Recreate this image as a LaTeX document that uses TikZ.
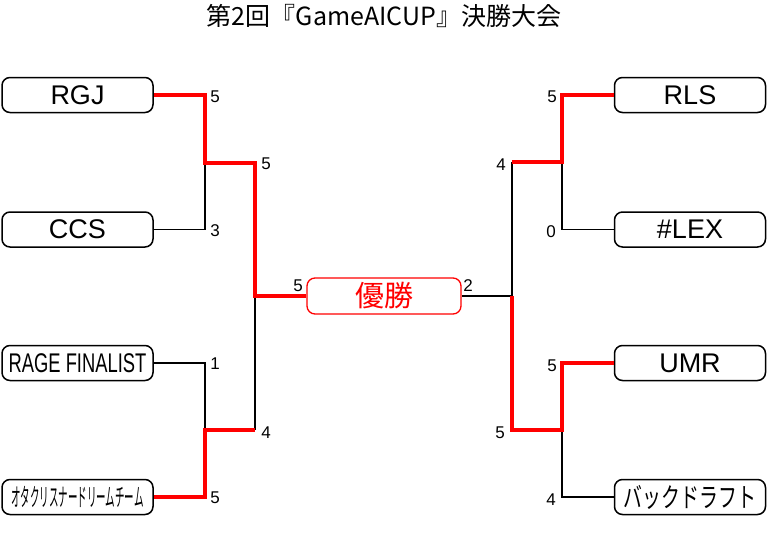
\documentclass[tikz,border=0pt]{standalone}
\usepackage{fontspec}
\setmainfont{Liberation Sans}
\newfontfamily\jp{Noto Sans CJK JP}
\begin{document}
\begin{tikzpicture}[x=1pt,y=-1pt,
  team/.style={shape=rectangle,draw,line width=1.5pt,rounded corners=8pt,minimum width=151pt,minimum height=35pt,inner sep=0pt,font=\fontsize{27}{27}\selectfont},
  champbox/.style={shape=rectangle,draw=red,text=red,line width=1.3pt,rounded corners=8pt,minimum width=154pt,minimum height=36pt,inner sep=0pt,font=\jp\fontsize{29}{29}\selectfont},
  score/.style={inner sep=0pt,font=\fontsize{17}{17}\selectfont},
  win/.style={draw=red,line width=3.8pt},
  lose/.style={draw=black,line width=1.5pt}]
\useasboundingbox (0,0) rectangle (768,552);
\node (title) at (384,16) [font=\jp\fontsize{25}{25}\selectfont] {第2回『GameAICUP』決勝大会};
\node   (rgj) at (77.5,95)  [team] {RGJ};
\node   (ccs) at (77.5,229.5) [team] {CCS};
\node  (rage) at (77.5,363) [team] {\scalebox{0.68}[1]{RAGE FINALIST}};
\node (otaku) at (77.5,497) [team] {\jp\fontsize{25}{25}\selectfont\scalebox{0.38}[1]{オタクリスナードリームチーム}};
\node   (rls) at (690,95)  [team] {RLS};
\node   (lex) at (690,229.5) [team] {\#LEX};
\node   (umr) at (690,363) [team] {UMR};
\node  (back) at (690,497) [team] {\jp\fontsize{27}{27}\selectfont\scalebox{0.7}[1]{バックドラフト}};
\node (champ) at (384,296) [champbox] {優勝};
\coordinate (lq1) at (205,163);
\coordinate (lq2) at (205,430);
\coordinate (ls1) at (255,163);
\coordinate (ls2) at (255,430);
\coordinate  (lf) at (255,296);
\coordinate (rq1) at (562,162);
\coordinate (rq2) at (562,430);
\coordinate (rs1) at (512,162);
\coordinate (rs2) at (512,430);
\coordinate  (rf) at (512,296);
\draw [lose] (ccs.east) -| (lq1);
\draw [lose] (rage.east) -| (lq2);
\draw [lose] (ls2) -- (lf);
\draw [lose] (lex.west) -| (rq1);
\draw [lose] (back.west) -| (rq2);
\draw [lose] (rs1) -- (rf) -- (champ.east);
\draw [win] (rgj.east) -| (lq1) -- (ls1) -- (lf) -- (champ.west);
\draw [win] (otaku.east) -| (lq2) -- (ls2);
\draw [win] (rls.west) -| (rq1) -- (rs1);
\draw [win] (umr.west) -| (rq2) -- (rs2) -- (rf);
\node  (s1) at (215,97)  [score] {5};
\node  (s2) at (215,231) [score] {3};
\node  (s3) at (266,164) [score] {5};
\node  (s4) at (215,364) [score] {1};
\node  (s5) at (266,433) [score] {4};
\node  (s6) at (215,498) [score] {5};
\node  (s7) at (298,286) [score] {5};
\node  (s8) at (468,286) [score] {2};
\node  (s9) at (552,97)  [score] {5};
\node (s10) at (501,165) [score] {4};
\node (s11) at (551,232) [score] {0};
\node (s12) at (552,366) [score] {5};
\node (s13) at (500,433) [score] {5};
\node (s14) at (551,500) [score] {4};
\end{tikzpicture}
\end{document}
